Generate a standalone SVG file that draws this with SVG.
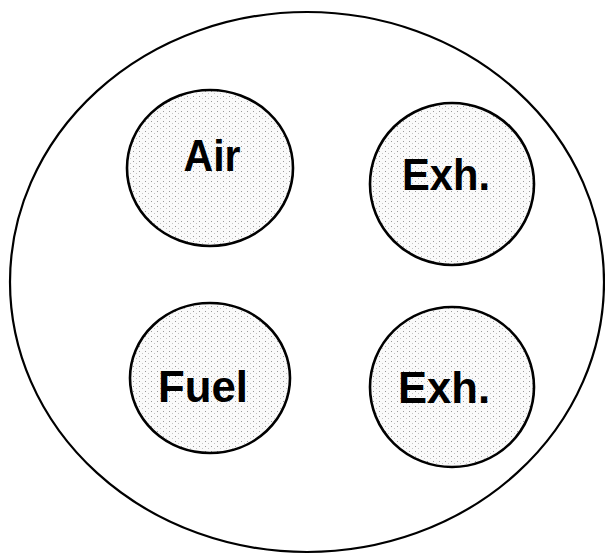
<svg xmlns="http://www.w3.org/2000/svg" width="605" height="560" viewBox="0 0 605 560">
<style>
.port{fill:url(#stip);stroke:#000;stroke-width:2.6}
.lbl{font-family:"Liberation Sans",Arial,sans-serif;font-weight:bold;font-size:45px;fill:#000;text-anchor:middle}
</style>
<defs>
<pattern id="stip" width="6" height="5" patternUnits="userSpaceOnUse">
<rect width="6" height="5" fill="#fafafa"/>
<rect x="1" y="1" width="1" height="1" fill="#9a9a9a"/>
<rect x="4" y="3" width="1" height="1" fill="#c4c4c4"/>
</pattern>
</defs>
<rect width="605" height="560" fill="#fff"/>
<g id="housing">
<ellipse cx="307" cy="282" rx="297" ry="270" fill="none" stroke="#000" stroke-width="2.2"/>
</g>
<g id="air">
<ellipse class="port" cx="210" cy="168" rx="83" ry="78"/>
<text class="lbl" x="212" y="171" textLength="57" lengthAdjust="spacingAndGlyphs">Air</text>
</g>
<g id="exh-top">
<ellipse class="port" cx="452" cy="184" rx="82" ry="81"/>
<text class="lbl" x="446" y="190" textLength="88" lengthAdjust="spacingAndGlyphs">Exh.</text>
</g>
<g id="fuel">
<ellipse class="port" cx="210" cy="378" rx="80" ry="75"/>
<text class="lbl" x="203" y="402" textLength="90" lengthAdjust="spacingAndGlyphs">Fuel</text>
</g>
<g id="exh-bottom">
<ellipse class="port" cx="452" cy="387" rx="82" ry="80"/>
<text class="lbl" x="444" y="403" textLength="92" lengthAdjust="spacingAndGlyphs">Exh.</text>
</g>
<g id="connectors"/>
</svg>
